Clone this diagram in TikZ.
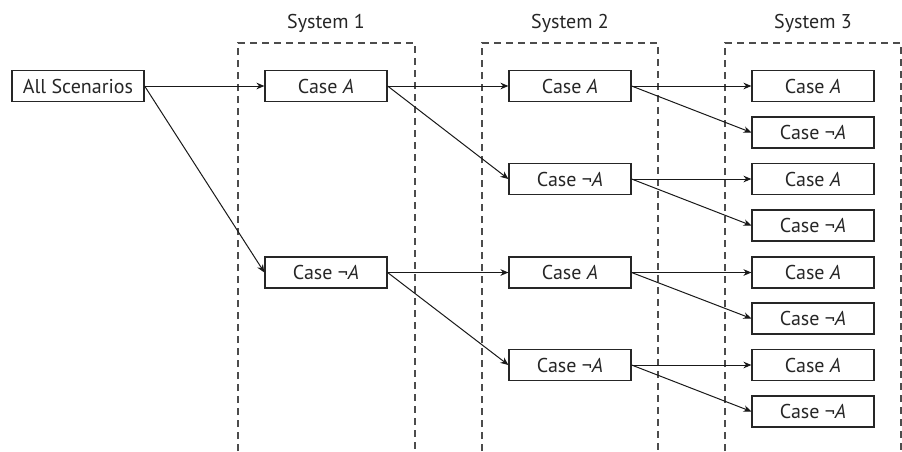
\documentclass[tikz,border=0pt]{standalone}
\usepackage{fontspec}
\setmainfont{PT Sans}
\usetikzlibrary{arrows.meta}
\begin{document}
\begin{tikzpicture}[x=0.75pt,y=-0.75pt,
  casebox/.style={draw=black!85, line width=0.9pt, minimum width=91.5pt, minimum height=23.25pt, inner sep=0pt, font=\fontsize{15}{17}\selectfont, text=black!85},
  syslabel/.style={font=\fontsize{15}{17}\selectfont, text=black!85},
  sysframe/.style={draw=black!70, dashed, dash pattern=on 5.5pt off 3.5pt, line width=0.8pt},
  edge/.style={draw=black!90, line width=0.75pt, -{Stealth[length=6pt,width=5pt]}}]
\useasboundingbox (0,0) rectangle (902,451);
% frames
\draw[sysframe] (238,451) -- (238,43) -- (415,43) -- (415,451);
\draw[sysframe] (482,451) -- (482,43) -- (658,43) -- (658,451);
\draw[sysframe] (725,451) -- (725,43) -- (901,43) -- (901,451);
\node[syslabel] (l1) at (326,23) {System 1};
\node[syslabel] (l2) at (570,23) {System 2};
\node[syslabel] (l3) at (813,23) {System 3};
% nodes
\node[casebox, minimum width=99pt] (all) at (78,86) {All Scenarios};
\node[casebox] (s1a) at (326,86) {Case \textit{A}};
\node[casebox] (s1n) at (326,272.5) {Case ¬\textit{A}};
\node[casebox] (s2a) at (570,86) {Case \textit{A}};
\node[casebox] (s2b) at (570,179) {Case ¬\textit{A}};
\node[casebox] (s2c) at (570,272.5) {Case \textit{A}};
\node[casebox] (s2d) at (570,365) {Case ¬\textit{A}};
\node[casebox] (t1) at (813,86) {Case \textit{A}};
\node[casebox] (t2) at (813,132.5) {Case ¬\textit{A}};
\node[casebox] (t3) at (813,179) {Case \textit{A}};
\node[casebox] (t4) at (813,225.5) {Case ¬\textit{A}};
\node[casebox] (t5) at (813,272.5) {Case \textit{A}};
\node[casebox] (t6) at (813,318.5) {Case ¬\textit{A}};
\node[casebox] (t7) at (813,365) {Case \textit{A}};
\node[casebox] (t8) at (813,411.5) {Case ¬\textit{A}};
% edges
\draw[edge] (all.east) -- (s1a.west);
\draw[edge] (all.east) -- (s1n.west);
\draw[edge] (s1a.east) -- (s2a.west);
\draw[edge] (s1a.east) -- (s2b.west);
\draw[edge] (s1n.east) -- (s2c.west);
\draw[edge] (s1n.east) -- (s2d.west);
\draw[edge] (s2a.east) -- (t1.west);
\draw[edge] (s2a.east) -- (t2.west);
\draw[edge] (s2b.east) -- (t3.west);
\draw[edge] (s2b.east) -- (t4.west);
\draw[edge] (s2c.east) -- (t5.west);
\draw[edge] (s2c.east) -- (t6.west);
\draw[edge] (s2d.east) -- (t7.west);
\draw[edge] (s2d.east) -- (t8.west);
\end{tikzpicture}
\end{document}
